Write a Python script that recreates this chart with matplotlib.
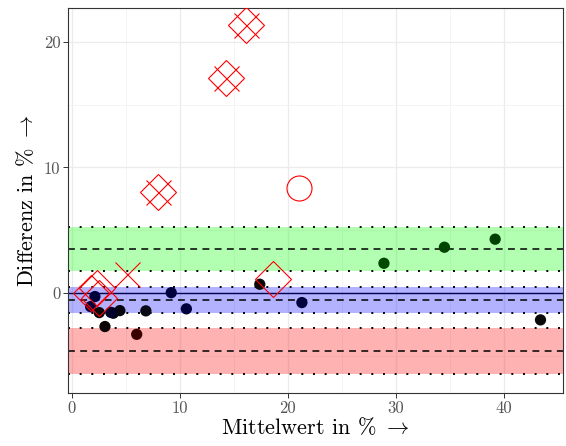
import matplotlib
matplotlib.use("Agg")
import matplotlib.pyplot as plt

plt.rcParams["font.family"] = "serif"
plt.rcParams["font.serif"] = ["cmr10"]
plt.rcParams["mathtext.fontset"] = "cm"
plt.rcParams["axes.unicode_minus"] = False

# Mittelwert / Differenz der Messpaare
mean_vals = [17.4, 21.3, 9.2, 10.6, 6.85, 6.0, 3.06, 2.13, 1.73, 2.53,
             3.83, 4.44, 3.6, 28.9, 34.5, 39.2, 43.4]
diff_vals = [0.69, -0.77, 0.02, -1.27, -1.43, -3.3, -2.68, -0.29, -1.09, -1.57,
             -1.62, -1.41, -1.55, 2.36, 3.64, 4.28, -2.15]
point_colors = ["#0a0a0a", "#00003c", "#00003c", "#00003c", "#0a0a14", "#3a0000",
                "#0d0505", "#00003c", "#00003c", "#0a0a0a",
                "#05050f", "#05050f", "#00002a", "#004a00", "#004400", "#004000",
                "#0a0a0a"]

# Ausreisser
diamond_x = [16.1, 14.26, 7.93, 18.6, 1.76, 2.29, 2.5]
diamond_y = [21.35, 17.1, 8.02, 1.09, 0.02, 0.42, -0.42]
cross_x = [16.1, 14.26, 7.93, 5.06]
cross_y = [21.35, 17.1, 8.02, 1.51]
ring_x = [21.0]
ring_y = [8.34]

# Bereiche: Mittelwert und Grenzen
band_means = [3.5, -0.56, -4.62]
band_lower = [1.72, -1.57, -6.45]
band_upper = [5.28, 0.45, -2.79]
band_colors = ["#00ff00", "#0000ff", "#ff0000"]

fig = plt.figure(figsize=(5.66, 4.46), dpi=100)
ax = fig.add_axes([0.120, 0.119, 0.875, 0.863])

for m, lo, hi, c in zip(band_means, band_lower, band_upper, band_colors):
    ax.axhspan(lo, hi, color=c, alpha=0.3, lw=0, zorder=1)
    ax.axhline(m, color="black", lw=1.1, ls=(0, (4.5, 3.5)), zorder=2)
    ax.axhline(lo, color="black", lw=1.4, ls=(0, (1, 5)), zorder=2)
    ax.axhline(hi, color="black", lw=1.4, ls=(0, (1, 5)), zorder=2)
ax.axhline(0, color="#000050", lw=1.0, zorder=2)

ax.scatter(mean_vals, diff_vals, s=66, c=point_colors, lw=0, zorder=3)

ax.plot(diamond_x, diamond_y, ls="none", marker="D", ms=18, mfc="none",
        mec="red", mew=0.8, zorder=4)
ax.plot(cross_x, cross_y, ls="none", marker="x", ms=18, mec="red",
        mew=0.8, zorder=4)
ax.plot(ring_x, ring_y, ls="none", marker="o", ms=18, mfc="none",
        mec="red", mew=0.8, zorder=4)

ax.set_xlim(-0.37, 45.5)
ax.set_ylim(-7.97, 22.7)
ax.set_xticks([0, 10, 20, 30, 40])
ax.set_xticks([5, 15, 25, 35], minor=True)
ax.set_yticks([0, 10, 20])
ax.set_yticks([-5, 5, 15], minor=True)
ax.set_axisbelow(True)
ax.grid(which="major", color="#ebebeb", lw=0.9)
ax.grid(which="minor", color="#f3f3f3", lw=0.6)
ax.tick_params(which="major", length=3.5, width=0.7, color="#333333",
               labelcolor="#555555", labelsize=12, pad=2)
ax.tick_params(which="minor", length=0)
for sp in ax.spines.values():
    sp.set_color("#333333")
    sp.set_linewidth(0.8)

ax.set_xlabel("Mittelwert in %$\\ \\rightarrow$", fontsize=16, labelpad=0)
ax.set_ylabel("Differenz in %$\\ \\rightarrow$", fontsize=16, labelpad=5)

fig.savefig("out.png", dpi=100)
